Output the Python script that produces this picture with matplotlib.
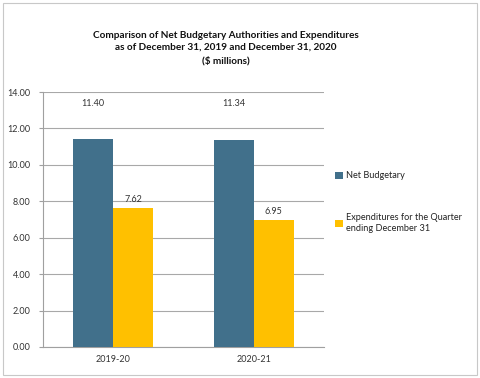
import matplotlib.pyplot as plt
import numpy as np
from matplotlib.patches import Rectangle

categories = ['2019-20', '2020-21']
net_budgetary = [11.40, 11.34]
expenditures = [7.62, 6.95]
series_names = ['Net Budgetary', 'Expenditures for the Quarter\nending December 31']
y_ticks = [0, 2, 4, 6, 8, 10, 12, 14]

blue = '#41708B'
yellow = '#FFC000'

plt.rcParams['font.family'] = ['Lato', 'DejaVu Sans']

fig = plt.figure(figsize=(4.8, 3.78), dpi=100)
# light border round the whole chart
fig.patches.append(Rectangle((3 / 480, 3 / 378), 474 / 480, 372 / 378, transform=fig.transFigure,
                             fill=False, edgecolor='#C8C8C8', linewidth=0.8))

ax = fig.add_axes([43 / 480, 1 - 347 / 378, 281 / 480, 255 / 378])

x = np.arange(len(categories))
w = 0.285
ax.bar(x - w / 2, net_budgetary, w, color=blue, label=series_names[0], zorder=3)
ax.bar(x + w / 2, expenditures, w, color=yellow, label=series_names[1], zorder=3)

# value labels (Excel places the blue ones near the top)
for i in range(len(categories)):
    ax.text(x[i] - w / 2, 13.35, f'{net_budgetary[i]:.2f}', ha='center', va='center', fontsize=6.5, color='#333333')
    ax.text(x[i] + w / 2, expenditures[i] + 0.5, f'{expenditures[i]:.2f}', ha='center', va='center', fontsize=6.5, color='#333333')

ax.set_xlim(-0.5, 1.5)
ax.set_ylim(0, 14)
ax.set_yticks(y_ticks)
ax.set_yticklabels([f'{t:.2f}' for t in y_ticks])
ax.set_xticks(x)
ax.set_xticklabels(categories)
ax.tick_params(axis='y', length=3, color='#A0A0A0', labelsize=6.5, labelcolor='#333333', pad=6)
ax.tick_params(axis='x', length=0, labelsize=6.5, labelcolor='#333333', pad=6)
ax.grid(axis='y', color='#A8A8A8', linewidth=0.8, zorder=0)
for s in ['top', 'right']:
    ax.spines[s].set_visible(False)
ax.spines['left'].set_color('#A0A0A0')
ax.spines['bottom'].set_color('#A0A0A0')

fig.text(226 / 480, 1 - 48 / 378, 'Comparison of Net Budgetary Authorities and Expenditures\nas of December 31, 2019 and December 31, 2020\n($ millions)',
         ha='center', va='center', fontsize=7.2, fontweight='bold', linespacing=1.5, color='#111111')

leg = fig.legend(loc='upper left', bbox_to_anchor=(327 / 480, 1 - 163 / 378), frameon=False,
                 fontsize=6.6, handlelength=0.8, handleheight=0.8, handletextpad=0.4, labelspacing=3.6)
for t in leg.get_texts():
    t.set_color('#222222')

fig.savefig('out.png', dpi=100)
